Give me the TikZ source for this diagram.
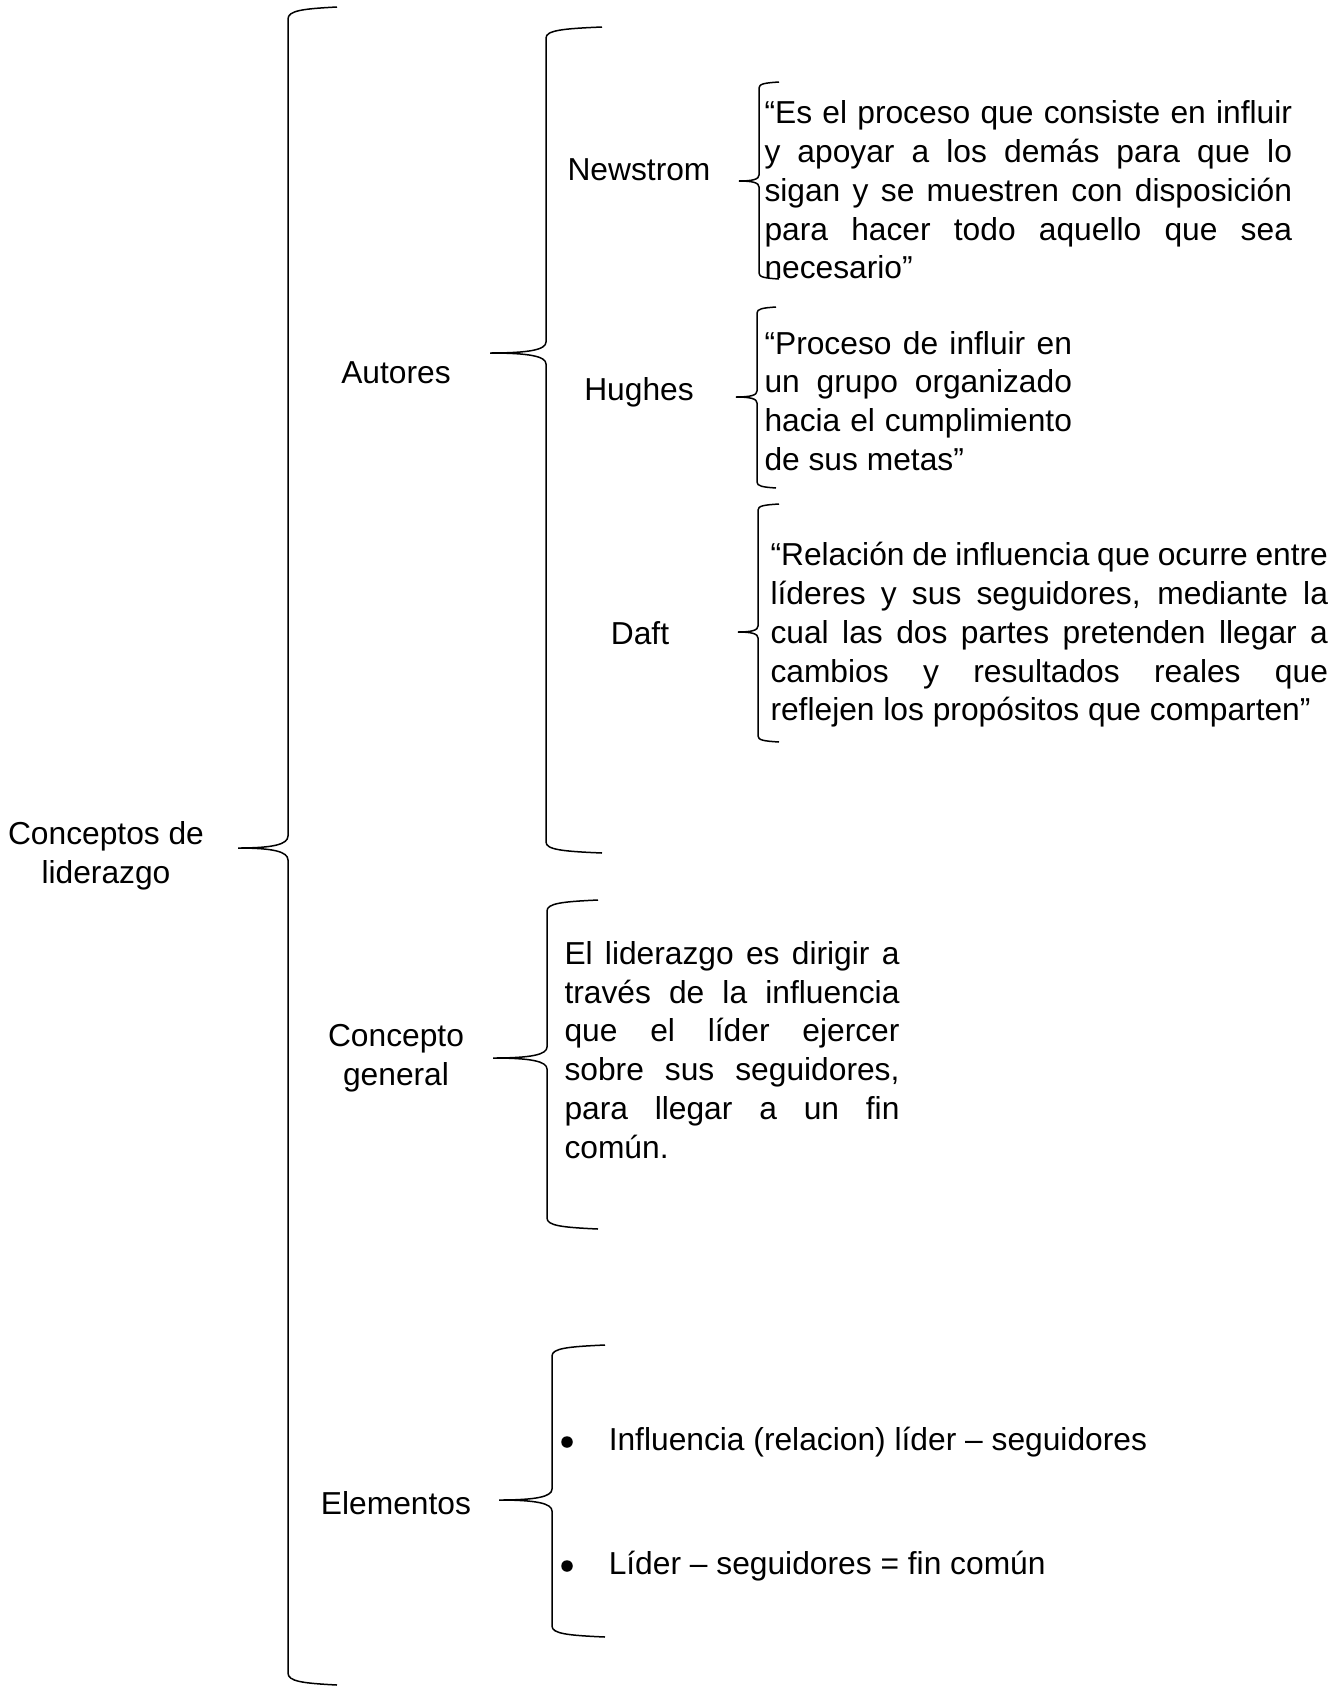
\documentclass[tikz,border=0pt]{standalone}
\usepackage{fontspec}
\setmainfont{Liberation Sans}
\usetikzlibrary{positioning}

\tikzset{
	llave/.style={line width=0.6pt},
	rama/.style={font=\fontsize{12.7}{15.5}\selectfont,align=center,inner sep=0pt},
	cita/.style={font=\fontsize{12.7}{15.5}\selectfont,align=justify,inner sep=0pt,anchor=west},
	vineta/.style={circle,fill,inner sep=0pt,minimum size=4.6pt}
}

% #1 lomo x, #2 arriba y, #3 punta y, #4 abajo y, #5 punta x, #6 brazo x, #7 curva
\newcommand{\llave}[7]{%
	\draw[llave] (#6,#2) .. controls (0.7*#1+0.3*#6,#2+0.15*#7) and (#1,#2+0.3*#7) .. (#1,#2+#7)
	-- (#1,#3-#7) .. controls (#1,#3-0.3*#7) and (0.7*#1+0.3*#5,#3) .. (#5,#3)
	.. controls (0.7*#1+0.3*#5,#3) and (#1,#3+0.3*#7) .. (#1,#3+#7)
	-- (#1,#4-#7) .. controls (#1,#4-0.3*#7) and (0.7*#1+0.3*#6,#4-0.15*#7) .. (#6,#4);}

\begin{document}
\begin{tikzpicture}[x=0.4pt,y=-0.4pt]
		\useasboundingbox (0,0) rectangle (1337,1686);
		\node[rama](raiz) at (106,856) {Conceptos de\\liderazgo};
		\node[rama](autores) at (396,373) {Autores};
		\node[rama](general) at (396,1058) {Concepto\\general};
		\node[rama](elementos) at (396,1503) {Elementos};
		\node[rama](newstrom) at (639,170) {Newstrom};
		\node[rama](hughes) at (639,392) {Hughes};
		\node[rama](daft) at (640,633) {Daft};
		\node[cita,text width=211pt](citaN) at (764,190) {“Es el proceso que consiste en influir\linebreak y apoyar a los demás para que lo\linebreak sigan y se muestren con disposición\linebreak para hacer todo aquello que sea\linebreak necesario”};
		\node[cita,text width=123pt](citaH) at (764,401) {“Proceso de influir en\linebreak un grupo organizado\linebreak hacia el cumplimiento\linebreak de sus metas”};
		\node[cita,text width=223pt](citaD) at (770,635) {“Relación de influencia que ocurre entre\linebreak líderes y sus seguidores, mediante la\linebreak cual las dos partes pretenden llegar a\linebreak cambios y resultados reales que\linebreak reflejen los propósitos que comparten”};
		\node[cita,text width=134pt](citaG) at (564,1050) {El liderazgo es dirigir a\linebreak través de la influencia\linebreak que el líder ejercer\linebreak sobre sus seguidores,\linebreak para llegar a un fin\linebreak común.};
		\node[vineta](b1) at (567,1442) {};
		\node[rama](e1)[right=14pt of b1] {Influencia (relacion) líder – seguidores};
		\node[vineta](b2) at (567,1566) {};
		\node[rama](e2)[right=14pt of b2] {Líder – seguidores = fin común};
		\llave{288}{7}{848}{1685}{238}{337}{12}
		\llave{546}{27}{353}{853}{490}{602}{11}
		\llave{547}{900}{1058}{1229}{493}{598}{11}
		\llave{552}{1345}{1500}{1637}{499}{605}{11}
		\llave{759}{82}{181}{279}{739}{779}{6}
		\llave{757}{307}{397}{488}{736}{776}{6}
		\llave{758}{504}{632}{742}{738}{779}{6}
\end{tikzpicture}
\end{document}
